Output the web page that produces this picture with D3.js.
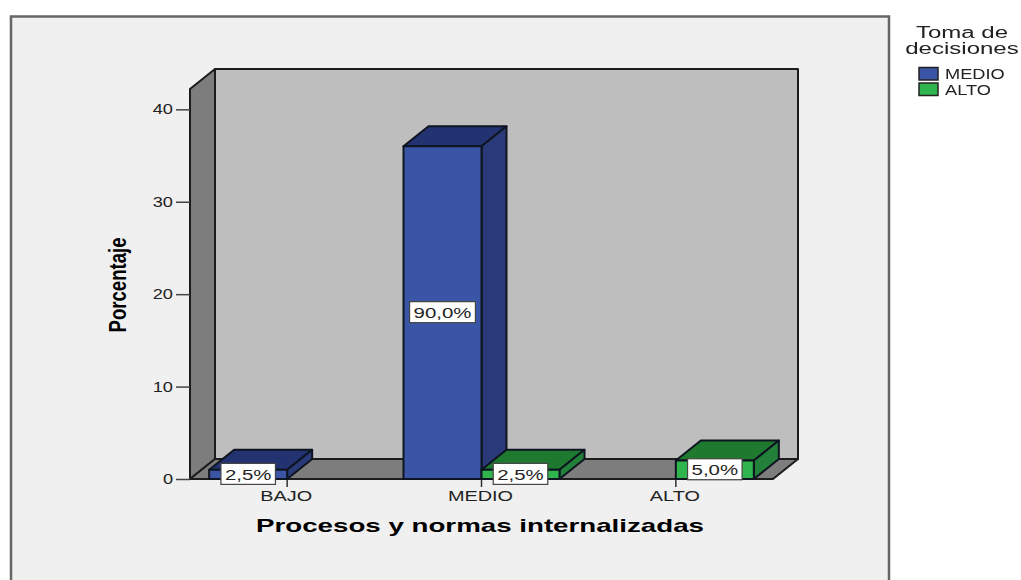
<!DOCTYPE html>
<html>
<head>
<meta charset="utf-8">
<script src="https://cdn.jsdelivr.net/npm/d3@7"></script>
<style>
  html, body { margin: 0; padding: 0; background: #fff; }
  svg { display: block; filter: blur(0.4px); }
  text { font-family: "Liberation Sans", Arial, sans-serif; fill: #222; }
</style>
</head>
<body>
<svg class="chart" width="1021" height="580"></svg>
<script>
const categories = ["BAJO", "MEDIO", "ALTO"];
const seriesNames = ["MEDIO", "ALTO"];
const seriesColors = { MEDIO: ["#3b55a6", "#233270", "#2a3a78"], ALTO: ["#30b44e", "#1f7a30", "#23803a"] };
const barCategory = ["BAJO", "MEDIO", "MEDIO", "ALTO"];
const barSeries = ["MEDIO", "MEDIO", "ALTO", "ALTO"];
const barValues = [1, 36, 1, 2];
const barLabels = ["2,5%", "90,0%", "2,5%", "5,0%"];
const yTicks = [0, 10, 20, 30, 40];
const legendTitle = ["Toma de", "decisiones"];

let svg = d3.select(".chart");

// depth of the fake 3d box
const dx = 25, dy = -20;

let x = d3.scaleBand().domain(categories).range([190, 773]);
let x1 = d3.scaleBand().domain(seriesNames).range([-78, 78]);
let y = d3.scaleLinear().domain([0, 42.2]).range([479, 89]);

const poly = (pts) => pts.map(p => p.join(",")).join(" ");

// the original picture is stretched sideways, so widen the glyphs by a factor
function stretch(sel, factor) {
  sel.each(function () {
    let w = this.getComputedTextLength();
    d3.select(this).attr("textLength", w * factor).attr("lengthAdjust", "spacingAndGlyphs");
  });
}

// outer panel
svg.append("rect")
  .attr("x", 11).attr("y", 16.5)
  .attr("width", 878).attr("height", 575)
  .attr("fill", "#f0f0f0")
  .attr("stroke", "#666")
  .attr("stroke-width", 2.5);

let x0 = x.range()[0], x2 = x.range()[1], y0 = y(0), yTop = y.range()[1];

// walls
let walls = svg.append("g")
  .attr("stroke", "#1c1c1c")
  .attr("stroke-width", 2)
  .attr("stroke-linejoin", "round");

walls.append("polygon")
  .attr("points", poly([[x0 + dx, yTop + dy], [x2 + dx, yTop + dy], [x2 + dx, y0 + dy], [x0 + dx, y0 + dy]]))
  .attr("fill", "#bebebe");
walls.append("polygon")
  .attr("points", poly([[x0, y0], [x0, yTop], [x0 + dx, yTop + dy], [x0 + dx, y0 + dy]]))
  .attr("fill", "#7d7d7d");
walls.append("polygon")
  .attr("points", poly([[x0, y0], [x0 + dx, y0 + dy], [x2 + dx, y0 + dy], [x2, y0]]))
  .attr("fill", "#7d7d7d");

// axes
let yAxis = d3.axisLeft(y).tickValues(yTicks).tickSize(14).tickPadding(3).tickFormat(d3.format("d"));
let gy = svg.append("g").attr("transform", `translate(${x0},0)`).call(yAxis);
gy.select(".domain").remove();
gy.selectAll("line").attr("stroke", "#444").attr("stroke-width", 1.5);
gy.selectAll("text").style("font-size", "14px").call(stretch, 1.3);

let xAxis = d3.axisBottom(x).tickSize(8).tickPadding(1);
let gx = svg.append("g").attr("transform", `translate(0,${y0})`).call(xAxis);
gx.select(".domain").remove();
gx.selectAll("line").attr("stroke", "#333").attr("stroke-width", 1.5);
gx.selectAll("text")
  .attr("y", 22).attr("dy", 0)
  .attr("x", -1)
  .style("font-size", "14px")
  .call(stretch, 1.42);

// bars
let bars = barValues.map((v, i) => {
  let cx = x(barCategory[i]) + x.bandwidth() / 2;
  let left = cx + x1(barSeries[i]);
  return { left, right: left + x1.bandwidth(), top: y(v), colors: seriesColors[barSeries[i]], label: barLabels[i] };
});

let barG = svg.selectAll(".bar")
  .data(bars)
  .enter().append("g")
  .attr("class", "bar")
  .attr("stroke", "#0e1420")
  .attr("stroke-width", 2)
  .attr("stroke-linejoin", "round");

barG.append("polygon")
  .attr("points", d => poly([[d.left, d.top], [d.left + dx, d.top + dy], [d.right + dx, d.top + dy], [d.right, d.top]]))
  .attr("fill", d => d.colors[1]);
barG.append("polygon")
  .attr("points", d => poly([[d.right, d.top], [d.right + dx, d.top + dy], [d.right + dx, y0 + dy], [d.right, y0]]))
  .attr("fill", d => d.colors[2]);
barG.append("rect")
  .attr("x", d => d.left).attr("y", d => d.top)
  .attr("width", d => d.right - d.left)
  .attr("height", d => y0 - d.top)
  .attr("fill", d => d.colors[0]);

// value labels
let labelG = svg.selectAll(".lbl")
  .data(bars)
  .enter().append("g")
  .attr("class", "lbl")
  .attr("transform", d => `translate(${(d.left + d.right) / 2},${(d.top + y0) / 2})`);

let labelText = labelG.append("text")
  .attr("text-anchor", "middle")
  .attr("dy", 5.5)
  .style("font-size", "15px")
  .text(d => d.label)
  .call(stretch, 1.36);

labelG.insert("rect", "text")
  .each(function () {
    let w = +d3.select(this.parentNode).select("text").attr("textLength") + 8;
    d3.select(this).attr("x", -w / 2).attr("width", w);
  })
  .attr("y", -11)
  .attr("height", 21)
  .attr("fill", "#fff")
  .attr("stroke", "#444")
  .attr("stroke-width", 1.2);

// axis titles
svg.append("text")
  .attr("x", 480).attr("y", 532)
  .attr("text-anchor", "middle")
  .attr("textLength", 448)
  .attr("lengthAdjust", "spacingAndGlyphs")
  .style("font-size", "19px")
  .style("font-weight", "bold")
  .style("fill", "#000")
  .text("Procesos y normas internalizadas");

svg.append("text")
  .attr("transform", "translate(126,285) rotate(-90)")
  .attr("text-anchor", "middle")
  .attr("textLength", 95)
  .attr("lengthAdjust", "spacingAndGlyphs")
  .style("font-size", "23px")
  .style("font-weight", "bold")
  .style("fill", "#000")
  .text("Porcentaje");

// legend
svg.selectAll(".legend-title")
  .data(legendTitle)
  .enter().append("text")
  .attr("class", "legend-title")
  .attr("x", 962)
  .attr("y", (d, i) => 38 + i * 16)
  .attr("text-anchor", "middle")
  .style("font-size", "16px")
  .text(d => d)
  .call(stretch, 1.5);

let legendRow = svg.selectAll(".legend-row")
  .data(seriesNames)
  .enter().append("g")
  .attr("class", "legend-row")
  .attr("transform", (d, i) => `translate(919,${67.5 + i * 15.5})`);
legendRow.append("rect")
  .attr("width", 19).attr("height", 12.5)
  .attr("fill", d => seriesColors[d][0])
  .attr("stroke", "#222")
  .attr("stroke-width", 1.5);
legendRow.append("text")
  .attr("x", 26).attr("y", 11.5)
  .style("font-size", "14px")
  .text(d => d)
  .call(stretch, 1.3);
</script>
</body>
</html>
